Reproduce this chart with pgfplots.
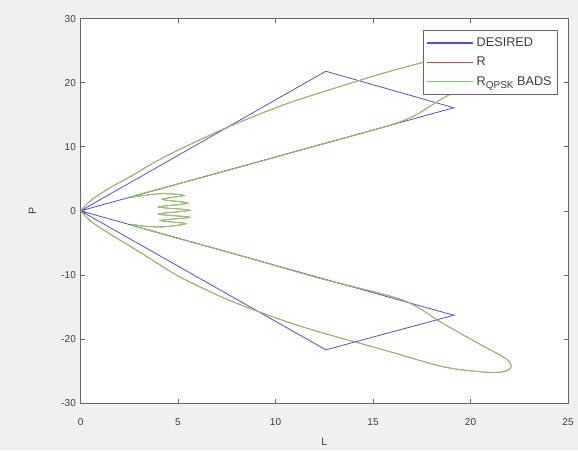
\documentclass[border=0pt]{standalone}
\usepackage{pgfplots}
\pgfplotsset{compat=1.18}
\usepackage{fontspec}
\setmainfont{Liberation Sans}
\definecolor{figbg}{RGB}{240,240,240}
\definecolor{axcol}{RGB}{100,100,100}
\definecolor{txtcol}{RGB}{60,60,60}
\definecolor{mblue}{RGB}{80,80,215}
\definecolor{mred}{RGB}{220,70,60}
\definecolor{mgreen}{RGB}{115,215,105}
\begin{document}
\begin{tikzpicture}
\fill[figbg] (0,0) rectangle (433.5pt,337.5pt);
\begin{axis}[
  at={(60.4pt,35.25pt)}, anchor=south west,
  scale only axis, width=365.6pt, height=288.2pt,
  xmin=0, xmax=25, ymin=-30, ymax=30,
  xtick={0,5,...,25}, ytick={-30,-20,...,30},
  tick align=inside, major tick length=3pt,
  axis line style={axcol, line width=0.5pt},
  tick style={axcol, line width=0.5pt},
  axis background/.style={fill=white},
  font=\fontsize{7.5}{9}\selectfont,
  tick label style={txtcol, font=\fontsize{7.5}{9}\selectfont},
  xticklabel style={yshift=-8pt},
  /pgf/number format/assume math mode=true,
  xlabel={L}, ylabel={P},
  label style={txtcol, font=\fontsize{8}{9}\selectfont},
  xlabel style={yshift=-3pt},
  ylabel style={yshift=12pt},
  legend cell align=left,
  legend style={at={(0.978,0.9706)}, anchor=north east, draw=axcol, fill=white,
    font=\fontsize{9.5}{10}\selectfont, text=txtcol, row sep=2.4pt,
    inner xsep=2pt, inner ysep=3.5pt},
  legend image code/.code={\draw[#1, line width=0.9pt] (0pt,0pt) -- (35pt,0pt);},
]
\addplot[draw=mblue, line width=0.6pt] coordinates {
(0,0) (12.58,21.8) (19.14,16.1) (0,0) (19.14,-16.3) (12.58,-21.7) (0,0)};
\addlegendentry{DESIRED}
\addplot[draw=mred, line width=0.6pt, smooth, tension=0.5] coordinates {
(0,0) (0.3,1.0) (0.65,1.9) (1.5,3.6) (2.53,5.3) (3.8,7.6) (5.08,9.6) (7.5,13.0) (10.19,16.3) (12.24,18.4) (15.65,21.6) (18.54,23.9) (20.41,24.8) (21.52,25.0) (22.0,24.5) (22.08,24.0)
(21.78,23.0) (20.41,20.7) (18.54,17.5) (16.49,14.0) (12.24,10.3) (8,6.7) (5,4.2) (2.6,2.2)
(3.5,2.5) (4.3,2.7) (5.3,2.4) (4.2,1.8) (5.5,1.2) (4.0,0.6) (5.6,0.1) (4.0,-0.5) (5.6,-1.0) (4.1,-1.5) (5.4,-2.0) (4.2,-2.5) (3.3,-2.4) (2.6,-2.2)
(5,-4.3) (8,-6.8) (12.24,-10.5) (16.49,-13.9) (18.54,-17.5) (20.41,-20.7) (21.78,-23.0) (22.08,-24.06)
(22.0,-24.7) (21.52,-25.2) (20.41,-25.1) (18.54,-24.3) (15.65,-21.8) (12.24,-18.9) (10.19,-16.9) (7.5,-13.8) (5.08,-10.3) (3.8,-7.9) (2.53,-5.5) (1.5,-3.6) (0.65,-1.9) (0.3,-1.0) (0,0)};
\addlegendentry{R}
\addplot[draw=mgreen, line width=0.6pt, smooth, tension=0.5] coordinates {
(0,0) (0.3,1.0) (0.65,1.9) (1.5,3.6) (2.53,5.3) (3.8,7.6) (5.08,9.6) (7.5,13.0) (10.19,16.3) (12.24,18.4) (15.65,21.6) (18.54,23.9) (20.41,24.8) (21.52,25.0) (22.0,24.5) (22.08,24.0)
(21.78,23.0) (20.41,20.7) (18.54,17.5) (16.49,14.0) (12.24,10.3) (8,6.7) (5,4.2) (2.6,2.2)
(3.5,2.5) (4.3,2.7) (5.3,2.4) (4.2,1.8) (5.5,1.2) (4.0,0.6) (5.6,0.1) (4.0,-0.5) (5.6,-1.0) (4.1,-1.5) (5.4,-2.0) (4.2,-2.5) (3.3,-2.4) (2.6,-2.2)
(5,-4.3) (8,-6.8) (12.24,-10.5) (16.49,-13.9) (18.54,-17.5) (20.41,-20.7) (21.78,-23.0) (22.08,-24.06)
(22.0,-24.7) (21.52,-25.2) (20.41,-25.1) (18.54,-24.3) (15.65,-21.8) (12.24,-18.9) (10.19,-16.9) (7.5,-13.8) (5.08,-10.3) (3.8,-7.9) (2.53,-5.5) (1.5,-3.6) (0.65,-1.9) (0.3,-1.0) (0,0)};
\addlegendentry{R\raisebox{-2.2pt}{\fontsize{7.5}{8}\selectfont QPSK} BADS}
\end{axis}
\end{tikzpicture}
\end{document}
